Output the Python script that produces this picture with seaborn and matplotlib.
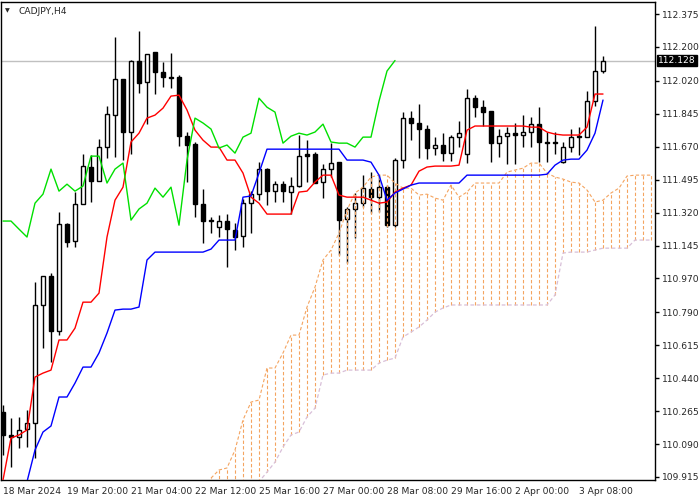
import numpy as np
import pandas as pd
import seaborn as sns
import matplotlib
matplotlib.use("Agg")
import matplotlib.pyplot as plt

sns.set_style("white")
plt.rcParams['font.family'] = ['DejaVu Sans']

# CADJPY H4 candles
opens = [110.260, 110.138, 110.127, 110.170, 110.202, 110.829, 110.983, 110.690, 111.259, 111.168,
         111.365, 111.562, 111.487, 111.668, 111.838, 112.029, 111.748, 112.125, 112.013, 112.173,
         112.066, 112.040, 112.040, 111.726, 111.684, 111.365, 111.280, 111.243, 111.275, 111.227,
         111.195, 111.370, 111.418, 111.551, 111.434, 111.471, 111.429, 111.461, 111.631, 111.631,
         111.482, 111.551, 111.588, 111.285, 111.339, 111.370, 111.445, 111.402, 111.455, 111.253,
         111.599, 111.822, 111.796, 111.764, 111.663, 111.679, 111.636, 111.721, 111.631, 111.928,
         111.880, 111.859, 111.689, 111.726, 111.742, 111.732, 111.748, 111.790, 111.695, 111.695,
         111.588, 111.668, 111.726, 111.721, 111.912, 112.072]
highs = [110.297, 110.228, 110.234, 110.271, 110.951, 110.983, 110.999, 111.323, 111.264, 111.429,
         111.631, 111.626, 111.710, 111.886, 112.252, 112.029, 112.130, 112.284, 112.162, 112.173,
         112.120, 112.167, 112.051, 111.748, 111.695, 111.445, 111.296, 111.307, 111.312, 111.264,
         111.392, 111.434, 111.588, 111.556, 111.487, 111.487, 111.509, 111.732, 111.705, 111.641,
         111.578, 111.689, 111.588, 111.349, 111.424, 111.519, 111.535, 111.519, 111.466, 111.610,
         111.854, 111.859, 111.896, 111.785, 111.721, 111.742, 111.732, 111.806, 111.976, 111.944,
         111.918, 111.859, 111.764, 111.774, 111.796, 111.838, 111.827, 111.880, 111.748, 111.748,
         111.695, 111.764, 111.774, 111.966, 112.311, 112.151]
lows = [110.032, 109.968, 110.069, 110.074, 110.016, 110.600, 110.526, 110.669, 111.137, 111.137,
        111.365, 111.376, 111.487, 111.610, 111.615, 111.599, 111.631, 111.955, 111.790, 111.950,
        111.987, 111.981, 111.673, 111.482, 111.296, 111.158, 111.211, 111.190, 111.030, 111.121,
        111.137, 111.211, 111.386, 111.360, 111.376, 111.376, 111.312, 111.455, 111.482, 111.477,
        111.397, 111.509, 111.094, 111.052, 111.184, 111.349, 111.317, 111.323, 111.243, 111.243,
        111.556, 111.705, 111.610, 111.604, 111.626, 111.594, 111.594, 111.668, 111.583, 111.827,
        111.780, 111.588, 111.615, 111.578, 111.578, 111.668, 111.668, 111.588, 111.588, 111.630,
        111.583, 111.641, 111.626, 111.721, 111.886, 112.061]
closes = [110.138, 110.127, 110.165, 110.202, 110.829, 110.983, 110.690, 111.259, 111.163, 111.365,
          111.567, 111.487, 111.668, 111.843, 112.029, 111.748, 112.125, 112.008, 112.162, 112.066,
          112.040, 112.035, 111.726, 111.679, 111.365, 111.275, 111.275, 111.275, 111.232, 111.190,
          111.370, 111.418, 111.551, 111.434, 111.471, 111.434, 111.461, 111.620, 111.620, 111.477,
          111.551, 111.583, 111.280, 111.339, 111.370, 111.450, 111.402, 111.455, 111.253, 111.599,
          111.822, 111.796, 111.764, 111.663, 111.679, 111.636, 111.721, 111.742, 111.928, 111.880,
          111.854, 111.689, 111.726, 111.742, 111.732, 111.748, 111.790, 111.695, 111.689, 111.689,
          111.668, 111.721, 111.721, 111.912, 112.072, 112.128]

# Ichimoku lines
tenkan = [109.899, 110.122, 110.138, 110.165, 110.446, 110.467, 110.483, 110.643, 110.643, 110.706,
          110.844, 110.844, 110.892, 111.190, 111.386, 111.455, 111.695, 111.742, 111.822, 111.838,
          111.875, 111.939, 111.944, 111.865, 111.758, 111.705, 111.668, 111.668, 111.599, 111.599,
          111.530, 111.402, 111.370, 111.312, 111.312, 111.312, 111.312, 111.429, 111.434, 111.482,
          111.519, 111.519, 111.413, 111.402, 111.402, 111.402, 111.386, 111.370, 111.376, 111.429,
          111.450, 111.466, 111.540, 111.562, 111.567, 111.567, 111.567, 111.572, 111.758, 111.780,
          111.780, 111.780, 111.780, 111.780, 111.780, 111.780, 111.774, 111.774, 111.748, 111.737,
          111.732, 111.732, 111.732, 111.774, 111.950, 111.950]
kijun = [np.nan, np.nan, np.nan, 109.890, 110.058, 110.154, 110.186, 110.340, 110.340, 110.414,
         110.499, 110.499, 110.574, 110.680, 110.802, 110.807, 110.807, 110.818, 111.068, 111.110,
         111.110, 111.110, 111.110, 111.110, 111.110, 111.110, 111.126, 111.174, 111.174, 111.174,
         111.402, 111.408, 111.530, 111.657, 111.657, 111.657, 111.657, 111.657, 111.657, 111.657,
         111.657, 111.657, 111.657, 111.599, 111.599, 111.599, 111.588, 111.519, 111.386, 111.424,
         111.445, 111.466, 111.477, 111.477, 111.477, 111.477, 111.477, 111.477, 111.519, 111.519,
         111.519, 111.519, 111.519, 111.519, 111.519, 111.519, 111.519, 111.519, 111.524, 111.572,
         111.599, 111.604, 111.604, 111.652, 111.742, 111.918]
# cloud, bars 26..81 (shifted forward)
span_a = [109.909, 109.952, 109.963, 110.058, 110.218, 110.313, 110.324, 110.494, 110.494, 110.574,
          110.669, 110.669, 110.818, 110.924, 111.068, 111.121, 111.211, 111.333, 111.424, 111.455,
          111.509, 111.519, 111.519, 111.477, 111.450, 111.450, 111.413, 111.418, 111.397, 111.386,
          111.466, 111.402, 111.429, 111.477, 111.477, 111.477, 111.477, 111.535, 111.546, 111.556,
          111.583, 111.583, 111.530, 111.509, 111.498, 111.482, 111.477, 111.440, 111.376, 111.386,
          111.424, 111.450, 111.514, 111.519, 111.519, 111.519]
span_b = [109.600, 109.650, 109.700, 109.750, 109.800, 109.850, 109.890, 109.941, 109.994, 110.074,
          110.138, 110.154, 110.234, 110.281, 110.457, 110.467, 110.467, 110.483, 110.483, 110.483,
          110.483, 110.520, 110.536, 110.547, 110.659, 110.685, 110.712, 110.749, 110.791, 110.813,
          110.829, 110.829, 110.829, 110.829, 110.829, 110.829, 110.829, 110.829, 110.829, 110.829,
          110.829, 110.829, 110.829, 110.882, 111.105, 111.110, 111.110, 111.110, 111.121, 111.131,
          111.131, 111.131, 111.131, 111.174, 111.174, 111.174]

date_labels = ["18 Mar 2024", "19 Mar 20:00", "21 Mar 04:00", "22 Mar 12:00", "25 Mar 16:00",
               "27 Mar 00:00", "28 Mar 08:00", "29 Mar 16:00", "2 Apr 00:00", "3 Apr 08:00"]
price_ticks = [112.375, 112.200, 112.020, 111.845, 111.670, 111.495, 111.320, 111.145,
               110.970, 110.790, 110.615, 110.440, 110.265, 110.090, 109.915]
last_price = 112.128

df = pd.DataFrame({"o": opens, "h": highs, "l": lows, "c": closes})
df["i"] = np.arange(len(df))
df["tenkan"] = tenkan
df["kijun"] = kijun
cloud = pd.DataFrame({"i": np.arange(26, 26 + len(span_a)), "a": span_a, "b": span_b})
chikou = pd.DataFrame({"i": np.arange(len(closes) - 26), "v": closes[26:]})

fig = plt.figure(figsize=(7, 5), dpi=100)
ax = fig.add_axes([1 / 700, 20 / 500, 654 / 700, 478 / 500])

# cloud hatching (vertical dashed lines) and its edges
dash = (0, (3, 2))
ax.vlines(cloud["i"], cloud["b"], cloud["a"], colors="#f4a460", linestyles=dash, lw=0.8, zorder=3)
ax.plot(cloud["i"], cloud["a"], color="#f4a460", ls=dash, lw=0.8, zorder=3)
ax.plot(cloud["i"], cloud["b"], color="#d8bfd8", ls=dash, lw=0.9, zorder=3)

# candles
ax.vlines(df["i"], df["l"], df["h"], colors="black", lw=1, zorder=2)
bull = df["c"] >= df["o"]
body_lo = df[["o", "c"]].min(axis=1)
body_h = (df["c"] - df["o"]).abs().clip(lower=0.004)
ax.bar(df["i"], body_h, bottom=body_lo, width=0.62,
       color=np.where(bull, "white", "black"), edgecolor="black", lw=1, zorder=2.5)

sns.lineplot(data=df, x="i", y="tenkan", color="red", lw=1, ax=ax, zorder=4)
sns.lineplot(data=df, x="i", y="kijun", color="blue", lw=1, ax=ax, zorder=4)
sns.lineplot(data=chikou, x="i", y="v", color="#00e000", lw=1, ax=ax, zorder=4)

ax.axhline(last_price, color="#c0c0c0", lw=1, zorder=1)

ax.set_xlim(-0.25, 81.5)
ax.set_ylim(109.899, 112.439)
ax.set_xlabel("")
ax.set_ylabel("")

fs = 6.6
ax.set_xticks(np.arange(0, 80, 8))
ax.set_xticklabels(date_labels, ha="left", fontsize=fs)
ax.yaxis.tick_right()
ax.set_yticks(price_ticks)
ax.set_yticklabels([f"{v:.3f}" for v in price_ticks], fontsize=fs)
ax.tick_params(axis="both", direction="out", length=3, width=1, color="black", pad=2)
for s in ax.spines.values():
    s.set_color("black")
    s.set_linewidth(1)

ax.text(1.005, last_price, f"{last_price:.3f}", transform=ax.get_yaxis_transform(),
        va="center", ha="left", fontsize=fs, color="white",
        bbox=dict(facecolor="black", edgecolor="black", boxstyle="square,pad=0.12"))
ax.text(0.006, 0.987, "\u25bc", transform=ax.transAxes, fontsize=4.5, va="top", ha="left")
ax.text(0.026, 0.99, "CADJPY,H4", transform=ax.transAxes, fontsize=fs, va="top", ha="left")

fig.savefig("out.png", dpi=100)
